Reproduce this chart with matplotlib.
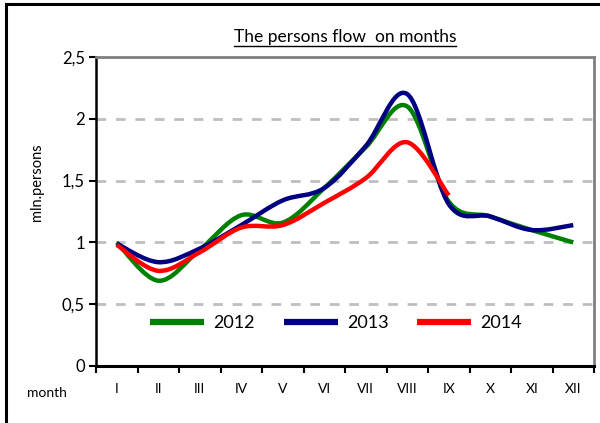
import numpy as np
import matplotlib
matplotlib.use("Agg")
import matplotlib.pyplot as plt
from matplotlib.path import Path
from matplotlib.patches import PathPatch, Rectangle
from matplotlib.lines import Line2D

plt.rcParams['font.family'] = ['Lato', 'DejaVu Sans']

months = ["I", "II", "III", "IV", "V", "VI", "VII", "VIII", "IX", "X", "XI", "XII"]
flow_2012 = [1.00, 0.69, 0.94, 1.22, 1.16, 1.44, 1.77, 2.10, 1.33, 1.21, 1.10, 1.00]
flow_2013 = [0.99, 0.84, 0.95, 1.14, 1.34, 1.44, 1.78, 2.20, 1.31, 1.21, 1.10, 1.14]
flow_2014 = [0.98, 0.77, 0.92, 1.12, 1.14, 1.32, 1.52, 1.81, 1.38]


def smooth_path(xs, ys):
    # Excel-like smoothed line: cubic bezier segments through the points
    p = np.column_stack([xs, ys]).astype(float)
    n = len(p)
    verts = [p[0]]
    codes = [Path.MOVETO]
    for i in range(n - 1):
        p0 = p[i - 1] if i > 0 else p[i]
        p3 = p[i + 2] if i + 2 < n else p[i + 1]
        c1 = p[i] + (p[i + 1] - p0) / 6.0
        c2 = p[i + 1] - (p3 - p[i]) / 6.0
        verts += [c1, c2, p[i + 1]]
        codes += [Path.CURVE4] * 3
    return Path(verts, codes)


fig = plt.figure(figsize=(6.0, 4.23), dpi=100)
ax = fig.add_axes([0.16, 0.1348, 0.83, 0.7304])

series = [(flow_2012, "#008000", "2012"),
          (flow_2013, "#000080", "2013"),
          (flow_2014, "#FF0000", "2014")]
handles = []
for vals, col, lab in series:
    x = np.arange(1, len(vals) + 1)
    patch = PathPatch(smooth_path(x, vals), facecolor="none", edgecolor=col,
                      lw=3.2, capstyle="butt", joinstyle="round", zorder=3)
    ax.add_patch(patch)
    handles.append(Line2D([], [], color=col, lw=4.5, solid_capstyle="butt", label=lab))

ax.set_xlim(0.5, 12.5)
ax.set_ylim(0, 2.5)
ax.set_yticks([0, 0.5, 1, 1.5, 2, 2.5])
ax.set_yticklabels(["0", "0,5", "1", "1,5", "2", "2,5"], fontsize=12)
ax.set_xticks(np.arange(1, 13))
ax.set_xticklabels(months, fontsize=10)
ax.set_xticks(np.arange(0.5, 13), minor=True)
ax.tick_params(axis="x", which="major", length=0, pad=12)
ax.tick_params(axis="x", which="minor", length=5, width=1.5, direction="out")
ax.tick_params(axis="y", length=5, width=1.5, direction="out", pad=3)

for g in [0.5, 1, 1.5, 2]:
    ax.axhline(g, color="#BFBFBF", lw=2, ls=(0, (3.5, 3.5)), zorder=1)

ax.spines["left"].set_linewidth(1.8)
ax.spines["bottom"].set_linewidth(2.2)
ax.spines["top"].set_color("#808080")
ax.spines["top"].set_linewidth(2)
ax.spines["right"].set_color("#808080")
ax.spines["right"].set_linewidth(2)

ax.set_ylabel("mln.persons", fontsize=10.5)
ax.yaxis.set_label_coords(-0.104, 0.595)
ax.text(-0.098, -0.088, "month", transform=ax.transAxes, ha="center", va="center", fontsize=10)

ax.set_title("The persons flow  on months", fontsize=12.5, pad=11, x=0.5)
fig.canvas.draw()
bb = ax.title.get_window_extent()
inv = fig.transFigure.inverted()
(x0, y0), (x1, y1) = inv.transform([[bb.x0, bb.y0], [bb.x1, bb.y1]])
fig.add_artist(Line2D([x0, x1], [y0 - 0.003, y0 - 0.003], color="black", lw=1.0,
                      transform=fig.transFigure))

leg = ax.legend(handles=handles, ncol=3, loc="center", bbox_to_anchor=(0.482, 0.139),
                frameon=False, fontsize=13, handlelength=3.0, handletextpad=0.5,
                columnspacing=1.6)

# outer chart frame
fig.add_artist(Rectangle((0.010, -0.2), 1.2, 1.19, transform=fig.transFigure,
                         fill=False, edgecolor="black", lw=2.2))

fig.savefig("out.png", dpi=100)
